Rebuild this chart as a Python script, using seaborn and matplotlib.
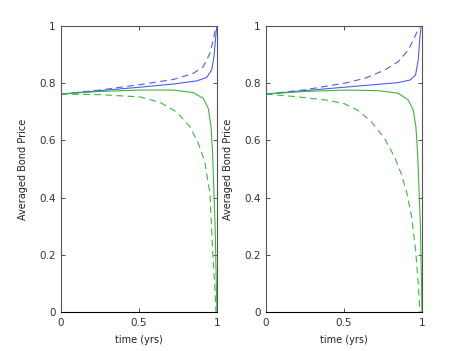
import pandas as pd
import seaborn as sns
import matplotlib.pyplot as plt

# values
# left panel
l_blue_t = [0, 0.25, 0.506, 0.72, 0.87, 0.934, 0.966, 0.981, 0.994, 1.0]
l_blue = [0.762, 0.774, 0.786, 0.797, 0.808, 0.82, 0.846, 0.893, 0.975, 1.0]
l_blue_d_t = [0, 0.25, 0.506, 0.72, 0.848, 0.912, 0.955, 0.976, 0.99, 0.997]
l_blue_d = [0.762, 0.776, 0.795, 0.813, 0.834, 0.858, 0.905, 0.951, 0.99, 1.0]
l_green_t = [0, 0.25, 0.506, 0.72, 0.848, 0.912, 0.944, 0.962, 0.972, 0.978, 0.988, 0.995, 1.0]
l_green = [0.762, 0.771, 0.776, 0.776, 0.767, 0.747, 0.712, 0.648, 0.555, 0.46, 0.3, 0.12, 0.0]
l_green_d_t = [0, 0.25, 0.506, 0.635, 0.74, 0.827, 0.88, 0.92, 0.955, 0.972, 0.985, 0.994]
l_green_d = [0.762, 0.76, 0.752, 0.733, 0.70, 0.648, 0.59, 0.53, 0.415, 0.217, 0.10, 0.0]

# right panel
r_blue_t = [0, 0.25, 0.504, 0.719, 0.847, 0.923, 0.959, 0.976, 0.987, 0.995]
r_blue = [0.762, 0.774, 0.786, 0.796, 0.802, 0.811, 0.829, 0.881, 0.963, 1.0]
r_blue_d_t = [0, 0.25, 0.504, 0.633, 0.762, 0.847, 0.912, 0.955, 0.976, 0.984]
r_blue_d = [0.762, 0.777, 0.80, 0.817, 0.846, 0.875, 0.916, 0.963, 0.99, 1.0]
r_green_t = [0, 0.25, 0.504, 0.719, 0.847, 0.912, 0.944, 0.961, 0.972, 0.979, 0.99, 0.996, 1.0]
r_green = [0.762, 0.771, 0.776, 0.774, 0.765, 0.741, 0.706, 0.648, 0.555, 0.46, 0.3, 0.12, 0.0]
r_green_d_t = [0, 0.19, 0.4, 0.504, 0.59, 0.676, 0.762, 0.826, 0.869, 0.901, 0.934, 0.959, 0.976, 0.987]
r_green_d = [0.762, 0.753, 0.74, 0.728, 0.705, 0.665, 0.605, 0.54, 0.48, 0.42, 0.333, 0.217, 0.1, 0.0]

x_ticks = [0, 0.5, 1]
x_labels = ['0', '0.5', '1']
y_ticks = [0, 0.2, 0.4, 0.6, 0.8, 1]
y_labels = ['0', '0.2', '0.4', '0.6', '0.8', '1']

BLUE = '#4a60f2'
GREEN = '#3cb83c'
DASH = (0, (6, 4))

sns.set_style('ticks')
plt.rcParams['font.family'] = ['DejaVu Sans']

fig = plt.figure(figsize=(4.67, 3.51), dpi=100)
ax1 = fig.add_axes([0.1306, 0.111, 0.334, 0.815])
ax2 = fig.add_axes([0.5696, 0.111, 0.334, 0.815])

panels = [
    (ax1, [(l_blue_t, l_blue, BLUE, '-'), (l_blue_d_t, l_blue_d, BLUE, DASH),
           (l_green_t, l_green, GREEN, '-'), (l_green_d_t, l_green_d, GREEN, DASH)]),
    (ax2, [(r_blue_t, r_blue, BLUE, '-'), (r_blue_d_t, r_blue_d, BLUE, DASH),
           (r_green_t, r_green, GREEN, '-'), (r_green_d_t, r_green_d, GREEN, DASH)]),
]

for ax, curves in panels:
    for t, v, col, ls in curves:
        d = pd.DataFrame({'t': t, 'v': v})
        sns.lineplot(data=d, x='t', y='v', ax=ax, color=col, linewidth=0.8,
                     estimator=None, sort=False, linestyle=ls)
    ax.set_xlim(0, 1)
    ax.set_ylim(0, 1)
    ax.set_xticks(x_ticks)
    ax.set_xticklabels(x_labels)
    ax.set_yticks(y_ticks)
    ax.set_yticklabels(y_labels)
    ax.tick_params(direction='in', length=3, width=0.6, top=True, right=True,
                   labelsize=7.5, colors='#333333', pad=4)
    for s in ax.spines.values():
        s.set_linewidth(0.8)
        s.set_color('#555555')
    ax.spines['bottom'].set_color('black')
    ax.set_xlabel('time (yrs)', fontsize=7, color='#222222', labelpad=5)
    ax.set_ylabel('Averaged Bond Price', fontsize=7, color='#222222', labelpad=8)

fig.savefig('out.png', dpi=100)
